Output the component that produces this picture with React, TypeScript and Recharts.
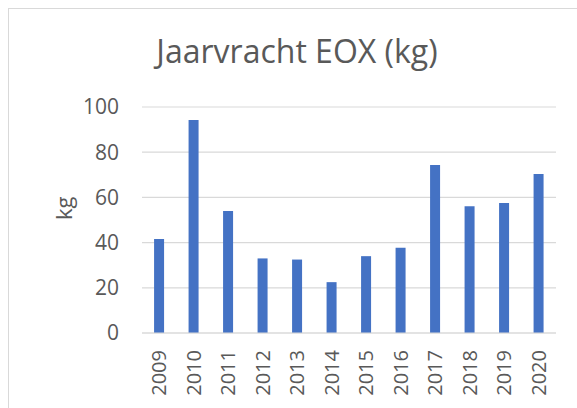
import React from 'react';
import { BarChart, Bar, XAxis, YAxis, CartesianGrid } from 'recharts';

const years = ['2009', '2010', '2011', '2012', '2013', '2014', '2015', '2016', '2017', '2018', '2019', '2020'];
const eoxKg = [41.6, 94.2, 54.0, 33.0, 32.5, 22.5, 34.0, 37.7, 74.3, 56.1, 57.5, 70.3];
const yTicks = [0, 20, 40, 60, 80, 100];

const data = years.map((year, i) => ({ year, kg: eoxKg[i] }));

const FONT = '"Open Sans", sans-serif';
const TEXT = '#595959';

function YearTick({ x, y, payload }: any) {
  return (
    <text
      x={x}
      y={y}
      transform={`rotate(-90 ${x} ${y})`}
      textAnchor="end"
      dy="0.36em"
      fill={TEXT}
      fontSize={20}
      fontFamily={FONT}
    >
      {payload.value}
    </text>
  );
}

export default function App() {
  return (
    <div style={{ position: 'absolute', left: 0, top: 0, width: 577, height: 408, overflow: 'hidden', background: '#fff' }}>
      <div
        style={{
          position: 'absolute',
          left: 8,
          top: 8,
          width: 578,
          height: 440,
          border: '1.5px solid #d9d9d9',
          boxSizing: 'border-box',
        }}
      />
      <div
        style={{
          position: 'absolute',
          left: 8,
          width: 578,
          top: 35,
          textAlign: 'center',
          fontFamily: FONT,
          fontSize: 32,
          lineHeight: '32px',
          color: TEXT,
        }}
      >
        Jaarvracht EOX (kg)
      </div>
      <BarChart
        width={577}
        height={408}
        data={data}
        margin={{ top: 107, right: 21, bottom: 5, left: 62 }}
        barCategoryGap="35%"
        style={{ position: 'absolute', left: 0, top: 0 }}
      >
        <CartesianGrid vertical={false} stroke="#d9d9d9" strokeWidth={1.2} />
        <XAxis
          dataKey="year"
          height={70}
          axisLine={{ stroke: '#d9d9d9', strokeWidth: 1.2 }}
          tickLine={false}
          tickSize={0}
          tickMargin={17}
          interval={0}
          tick={<YearTick />}
        />
        <YAxis
          width={80}
          domain={[0, 100]}
          ticks={yTicks}
          axisLine={false}
          tickLine={false}
          tickSize={0}
          tickMargin={23}
          tick={{ fill: TEXT, fontSize: 21, fontFamily: FONT }}
          label={{ value: 'kg', angle: -90, position: 'insideLeft', offset: 0, dx: 2, fill: TEXT, fontSize: 22, fontFamily: FONT }}
        />
        <Bar dataKey="kg" fill="#4472c4" isAnimationActive={false} />
      </BarChart>
    </div>
  );
}
